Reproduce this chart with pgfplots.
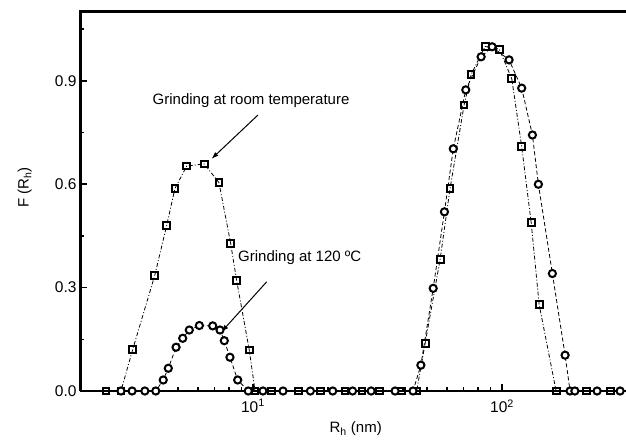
\documentclass[border=0pt]{standalone}
\usepackage{fontspec}
\setmainfont{Liberation Sans}
\usepackage{pgfplots}
\pgfplotsset{compat=1.18}
\usetikzlibrary{arrows.meta}

\begin{document}
\begin{tikzpicture}
\begin{axis}[
    at={(0,0)}, anchor=south west,
    scale only axis,
    width=546pt, height=379pt,
    xmode=log,
    xmin=2.02, xmax=314.5,
    ymin=0, ymax=1.1,
    axis x line=box, axis y line=left,
    axis line style={-},
    xtick pos=bottom, ytick pos=left,
    tick align=inside,
    major tick length=7pt, minor tick length=4pt,
    every tick/.style={black, line width=1.6pt},
    xtick={10,100},
    xticklabels={10\textsuperscript{1},10\textsuperscript{2}},
    minor xtick={3,4,5,6,7,8,9,20,30,40,50,60,70,80,90,200,300},
    ytick={0,0.3,0.6,0.9},
    minor ytick={0.15,0.45,0.75,1.05},
    yticklabel style={/pgf/number format/.cd, fixed, fixed zerofill, precision=1},
    /pgf/number format/assume math mode=true,
    tick label style={font=\fontsize{15.5}{17}\selectfont},
    xticklabel style={yshift=-5pt},
    xlabel={R\textsubscript{h} (nm)},
    ylabel={F (R\textsubscript{h})},
    every axis x label/.style={at={(axis description cs:0.505,-0.1)}, anchor=center},
    every axis y label/.style={at={(axis description cs:-0.101,0.537)}, rotate=90, anchor=center},
    label style={font=\fontsize{15}{17}\selectfont},
    clip=false,
]
% heavier frame: left, top, bottom
\draw[line width=3pt] (rel axis cs:0,0) -- (rel axis cs:0,1) -- (rel axis cs:1,1);
\draw[line width=2.2pt] (rel axis cs:0,0) -- (rel axis cs:1,0);
% grinding at room temperature (squares)
\addplot[black, line width=0.8pt, dash pattern=on 4pt off 2pt on 1pt off 2pt,
    mark=square, mark size=3.4pt, mark options={solid, line width=2pt, fill=white}]
coordinates {
(2.57,0) (2.95,0) (3.29,0.121) (4.03,0.335) (4.50,0.48) (4.86,0.588) (5.42,0.653)
(6.37,0.659) (7.30,0.605) (8.13,0.429) (8.60,0.32) (9.66,0.119) (10.19,0)
(11.9,0) (15.2,0) (18.6,0) (23.4,0) (27.4,0) (32.3,0) (39.5,0) (45.4,0)
(49.1,0.138) (56.4,0.382) (61.8,0.587) (70.4,0.83) (75.1,0.918) (85.5,1.0)
(97.5,0.992) (109.4,0.906) (119.9,0.709) (130.8,0.49) (140.9,0.251) (164.8,0)
(219,0) (271.6,0)
};
% grinding at 120 C (circles)
\addplot[black, line width=0.8pt, dash pattern=on 4pt off 2.5pt,
    mark=*, mark size=3.6pt, mark options={solid, line width=2pt, fill=white}]
coordinates {
(2.95,0) (3.27,0) (3.68,0) (4.07,0) (4.36,0.032) (4.57,0.066) (4.91,0.127)
(5.22,0.153) (5.55,0.177) (6.09,0.19) (6.89,0.189) (7.37,0.177) (7.67,0.146)
(8.08,0.098) (8.68,0.032) (9.57,0) (10.96,0) (13.2,0) (17.0,0) (20.9,0)
(25.1,0) (29.8,0) (37.2,0) (43.9,0) (47.2,0.075) (52.9,0.298) (58.7,0.52)
(63.7,0.703) (71.5,0.874) (82.4,0.97) (91.2,0.999) (106.7,0.961) (119.9,0.879)
(132.4,0.743) (139.9,0.60) (159.2,0.341) (179.1,0.104) (187.5,0) (196,0)
(240.7,0) (297.8,0)
};
\node[font=\fontsize{15}{17}\selectfont] at (axis cs:9.82,0.842) {Grinding at room temperature};
\draw[line width=1pt, -{Latex[length=7pt,width=5pt]}] (axis cs:10.47,0.801) -- (axis cs:6.82,0.674);
\node[font=\fontsize{15}{17}\selectfont] at (axis cs:15.4,0.386) {Grinding at 120 ºC};
\draw[line width=1pt, -{Latex[length=7pt,width=5pt]}] (axis cs:11.35,0.317) -- (axis cs:7.48,0.172);
\end{axis}
\pgfresetboundingbox
\path[use as bounding box] (-80pt,-48pt) rectangle (546pt,391pt);
\end{tikzpicture}
\end{document}
